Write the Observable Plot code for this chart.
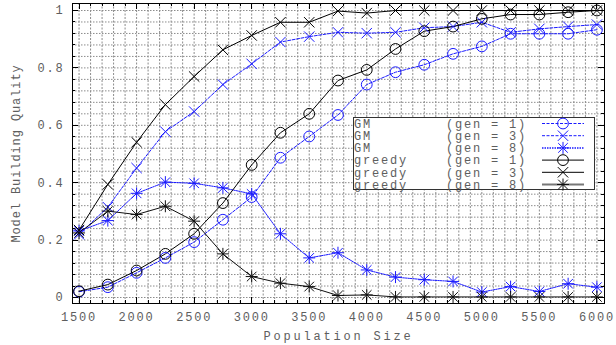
<!DOCTYPE html>
<html><head><meta charset="utf-8">
<script src="https://cdn.jsdelivr.net/npm/d3@7"></script>
<script src="https://cdn.jsdelivr.net/npm/@observablehq/plot@0.6"></script>
<style>
body{margin:0;background:#fff;}
#chart svg{font-family:"Liberation Mono","DejaVu Sans Mono",monospace;}
#chart svg text{letter-spacing:1.8px;fill:#5e5e5e;}
</style></head><body><div id="chart"></div>
<script>
// ---- data ----
const popSizes = [1500,1750,2000,2250,2500,2750,3000,3250,3500,3750,4000,4250,4500,4750,5000,5250,5500,5750,6000];
const gmGen1 = [0.020,0.036,0.086,0.138,0.193,0.271,0.350,0.487,0.561,0.636,0.742,0.785,0.811,0.849,0.875,0.919,0.919,0.919,0.933];
const gmGen3 = [0.220,0.315,0.451,0.578,0.648,0.742,0.814,0.890,0.909,0.924,0.921,0.924,0.940,0.944,0.959,0.924,0.936,0.944,0.951];
const gmGen8 = [0.232,0.268,0.363,0.402,0.398,0.382,0.361,0.222,0.138,0.156,0.096,0.071,0.062,0.056,0.019,0.038,0.021,0.048,0.036];
const greedyGen1 = [0.022,0.045,0.094,0.152,0.222,0.329,0.462,0.574,0.640,0.756,0.793,0.866,0.928,0.944,0.971,0.986,0.986,0.994,1.000];
const greedyGen3 = [0.235,0.394,0.541,0.672,0.770,0.863,0.913,0.959,0.959,0.998,0.991,1.000,1.000,1.000,1.000,1.000,1.000,1.000,1.000];
const greedyGen8 = [0.225,0.301,0.289,0.318,0.266,0.152,0.073,0.050,0.038,0.007,0.009,0.002,0.002,0.002,0.002,0.002,0.002,0.002,0.002];
const methodNames = ["GM","GM","GM","greedy","greedy","greedy"];
const genLabels = ["(gen = 1)","(gen = 3)","(gen = 8)","(gen = 1)","(gen = 3)","(gen = 8)"];
const xTickLabels = [1500,2000,2500,3000,3500,4000,4500,5000,5500,6000];
const yTickLabels = [0,0.2,0.4,0.6,0.8,1];
const xTitle = "Population Size";
const yTitle = "Model Building Quality";

// ---- symbols ----
const rad = s => Math.sqrt(s/Math.PI);
const symCircle = {draw(c,s){const r=rad(s);c.moveTo(r,0);c.arc(0,0,r,0,2*Math.PI);}};
const symTimes = {draw(c,s){const r=rad(s);c.moveTo(-r,-r);c.lineTo(r,r);c.moveTo(-r,r);c.lineTo(r,-r);}};
const symStar = {draw(c,s){const r=rad(s),a=r*0.8;c.moveTo(-a,-a);c.lineTo(a,a);c.moveTo(-a,a);c.lineTo(a,-a);c.moveTo(-r,0);c.lineTo(r,0);c.moveTo(0,-r);c.lineTo(0,r);}};

const BLUE = "#1a1aff";
const series = [
  {values: gmGen1, color: BLUE, dash: "3,1.5", sym: symCircle, r: 5.4, lw: 1, legendColor: BLUE, legendW: 1},
  {values: gmGen3, color: BLUE, dash: "3,1.5", sym: symTimes, r: 5.2, lw: 1, legendColor: BLUE, legendW: 1},
  {values: gmGen8, color: BLUE, dash: "1.5,1", sym: symStar, r: 6, lw: 1, legendColor: BLUE, legendW: 1.5},
  {values: greedyGen1, color: "#000", dash: null, sym: symCircle, r: 5.4, lw: 1, legendColor: "#000", legendW: 1},
  {values: greedyGen3, color: "#000", dash: null, sym: symTimes, r: 5.2, lw: 1, legendColor: "#000", legendW: 1},
  {values: greedyGen8, color: "#111", dash: null, sym: symStar, r: 6, lw: 1, legendColor: "#777", legendW: 2}
];
series.forEach((s,i)=>{s.name=methodNames[i]; s.gen=genLabels[i]; s.rows=s.values.map((v,j)=>({pop:popSizes[j], q:v}));});

const xMinor = d3.range(1500, 6001, 100);
const yMinor = d3.range(0, 25).map(i => +(i*0.04).toFixed(2)).concat([1]);

// inward tick marks on all four sides
function tickMarks(index, {x, y}, values, dims) {
  const g = d3.create("svg:g").attr("stroke", "#000").attr("stroke-width", 1);
  const L = dims.marginLeft, R = dims.width - dims.marginRight, T = dims.marginTop, B = dims.height - dims.marginBottom;
  for (const v of xMinor) {
    const len = xTickLabels.includes(v) ? 6 : 3, px = Math.round(x(v)) + 0.5;
    g.append("line").attr("x1",px).attr("x2",px).attr("y1",B).attr("y2",B-len);
    g.append("line").attr("x1",px).attr("x2",px).attr("y1",T).attr("y2",T+len);
  }
  for (const v of yMinor) {
    const len = yTickLabels.some(t => Math.abs(t-v)<1e-9) ? 6 : 3, py = Math.round(y(v)) + 0.5;
    g.append("line").attr("y1",py).attr("y2",py).attr("x1",L).attr("x2",L+len);
    g.append("line").attr("y1",py).attr("y2",py).attr("x1",R).attr("x2",R-len);
  }
  return g.node();
}

// key box in the upper right part of the frame
function legendBox(index, scales, values, dims) {
  const R = dims.width - dims.marginRight, T = dims.marginTop;
  const left = R - 251, top = T + 114, w = 241, h = 72;
  const g = d3.create("svg:g").attr("text-anchor", "start");
  g.append("rect").attr("x", left+0.5).attr("y", top+0.5).attr("width", w).attr("height", h)
    .style("fill", "#ffffff").style("stroke", "#333333").style("stroke-width", "1px");
  series.forEach((s, i) => {
    const cy = top + 6.5 + i*12.2;
    g.append("text").attr("x", left+1).attr("y", cy).attr("dy","0.36em").attr("font-size", 12).attr("text-anchor","start").text(s.name);
    g.append("text").attr("x", left+93).attr("y", cy).attr("dy","0.36em").attr("font-size", 12).attr("text-anchor","start").text(s.gen);
    const ln = g.append("line").attr("x1", left+189).attr("x2", left+231).attr("y1", cy).attr("y2", cy)
      .attr("stroke", s.legendColor).attr("stroke-width", s.legendW);
    if (s.dash) ln.attr("stroke-dasharray", s.dash);
    const p = d3.path(); s.sym.draw(p, s.r*s.r*Math.PI);
    g.append("path").attr("transform", `translate(${left+210},${cy})`).attr("d", p.toString())
      .attr("fill", "none").attr("stroke", s.color).attr("stroke-width", 1);
  });
  return g.node();
}

const marks = [
  Plot.gridX(xMinor, {stroke: "#8c8c8c", strokeOpacity: 1, strokeDasharray: "2,1.5"}),
  Plot.gridY(yMinor, {stroke: "#8c8c8c", strokeOpacity: 1, strokeDasharray: "1.5,1.5"}),
  Plot.axisX(xTickLabels, {tickSize: 0, tickPadding: 9, tickFormat: d => String(d), fontSize: 12, label: null}),
  Plot.axisY(yTickLabels, {tickSize: 0, tickPadding: 8, tickFormat: d => String(d), fontSize: 12, label: null}),
  Plot.text([xTitle], {frameAnchor: "bottom", dy: 36, fontSize: 12, textAnchor: "middle"}),
  Plot.text([yTitle], {frameAnchor: "left", dx: -56, rotate: -90, fontSize: 12, textAnchor: "middle"})
];
series.forEach(s => {
  marks.push(Plot.line(s.rows, {x: "pop", y: "q", stroke: s.color, strokeWidth: s.lw, strokeDasharray: s.dash ?? undefined}));
});
series.forEach(s => {
  marks.push(Plot.dot(s.rows, {x: "pop", y: "q", symbol: s.sym, r: s.r, stroke: s.color, fill: "none", strokeWidth: 1}));
});
marks.push(legendBox, tickMarks, Plot.frame({stroke: "#000", strokeWidth: 1}));

const chart = Plot.plot({
  width: 616, height: 345,
  marginLeft: 72, marginRight: 12, marginTop: 3, marginBottom: 42,
  x: {domain: [1443, 6066]},
  y: {domain: [-0.0209, 1.0244]},
  style: {background: "#fff", fontFamily: "'Liberation Mono', monospace"},
  marks
});
// per-title letter spacing, matching the reference's spread
chart.querySelectorAll("text").forEach(t => {
  if (t.textContent === xTitle) t.style.letterSpacing = "2.8px";
  if (t.textContent === yTitle) t.style.letterSpacing = "0.9px";
});
document.getElementById("chart").append(chart);
</script></body></html>
